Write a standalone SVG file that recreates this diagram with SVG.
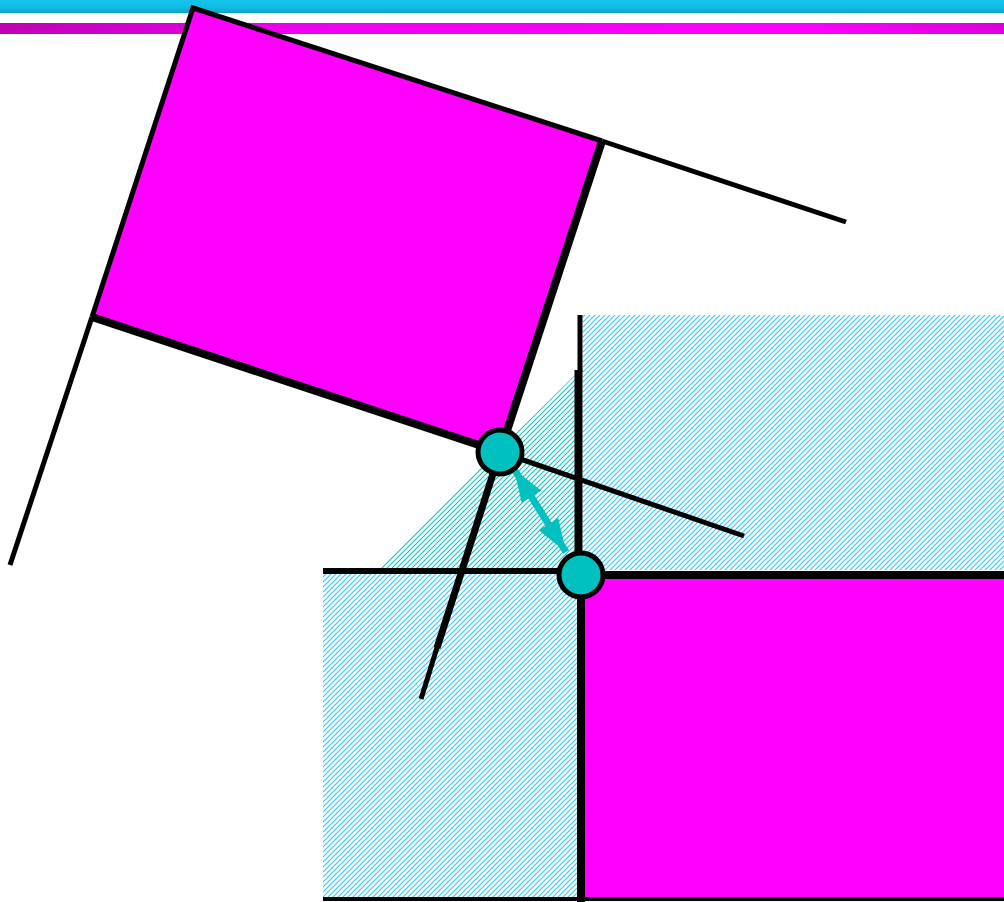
<svg xmlns="http://www.w3.org/2000/svg" width="1004" height="902" viewBox="0 0 1004 902">
<style>
.ln{stroke:#000;stroke-linecap:butt;fill:none}
.thin{stroke-width:5}
.thick{stroke-width:8}
.node{fill:#00c0c0;stroke:#000;stroke-width:5}
</style>
<defs>
<linearGradient id="gc" x1="0" y1="0" x2="0" y2="1">
<stop offset="0" stop-color="#14c4ec"/><stop offset="0.6" stop-color="#10bce4"/><stop offset="1" stop-color="#0ea0c0"/>
</linearGradient>
<linearGradient id="gm" x1="0" y1="0" x2="1" y2="0">
<stop offset="0" stop-color="#c000b4"/><stop offset="0.3" stop-color="#f000f0"/><stop offset="0.8" stop-color="#ff00ff"/><stop offset="1" stop-color="#dc00dc"/>
</linearGradient>
<pattern id="hb" width="5" height="5" patternUnits="userSpaceOnUse">
<rect width="5" height="5" fill="#fff"/>
<path d="M-1,6 L6,-1 M-1,1 L1,-1 M4,6 L6,4" stroke="#30c8f8" stroke-width="1.1"/>
</pattern>
<pattern id="ht" width="5" height="5" patternUnits="userSpaceOnUse">
<rect width="5" height="5" fill="#fff"/>
<path d="M-1,6 L6,-1 M-1,1 L1,-1 M4,6 L6,4" stroke="#10c4c4" stroke-width="1.1"/>
</pattern>
<marker id="ah" viewBox="0 0 10 10" refX="10" refY="5" markerWidth="4.7" markerHeight="3.3" orient="auto-start-reverse" markerUnits="strokeWidth" preserveAspectRatio="none">
<path d="M0,0 L10,5 L0,10 Z" fill="#00c0c0"/>
</marker>
</defs>

<g id="header">
<rect x="0" y="0" width="1004" height="13" fill="url(#gc)"/>
<rect x="0" y="23" width="1004" height="11" fill="url(#gm)"/>
</g>

<g id="regions">
<rect x="583" y="315" width="421" height="255" fill="url(#hb)"/>
<rect x="323" y="573" width="256" height="325" fill="url(#hb)"/>
<polygon points="375,571 577,373 577,570" fill="url(#ht)"/>
</g>

<g id="tilted-rect">
<polygon points="193,8 602,141 500,452 92,317" fill="#ff00ff"/>
<path class="ln thin" d="M92,317 L193,8 L602,141"/>
<path class="ln thick" d="M602,141 L500,452 L92,317"/>
</g>

<g id="fixed-rect">
<rect x="583" y="577" width="421" height="321" fill="#ff00ff"/>
</g>

<g id="connectors">
<line class="ln thin" x1="602" y1="141" x2="846" y2="222"/>
<line class="ln thin" x1="92" y1="317" x2="10" y2="565"/>
<line class="ln thin" x1="500" y1="452" x2="744" y2="536"/>
<line class="ln" stroke-width="7" x1="500" y1="452" x2="437" y2="648"/>
<line class="ln thin" x1="440" y1="638" x2="421" y2="699"/>
<line class="ln thin" x1="580" y1="315" x2="580" y2="372"/>
<line class="ln thick" x1="578.5" y1="370" x2="578.5" y2="575"/>
<line class="ln" stroke-width="6" x1="323" y1="571" x2="581" y2="571"/>
<line class="ln thick" x1="581" y1="575" x2="1004" y2="575"/>
<line class="ln thick" x1="581" y1="575" x2="581" y2="902"/>
<line class="ln" stroke-width="4" x1="323" y1="899" x2="1004" y2="899"/>
<line x1="514" y1="469" x2="566" y2="552" stroke="#00c0c0" stroke-width="7" marker-start="url(#ah)" marker-end="url(#ah)"/>
</g>

<g id="joint-1"><circle class="node" cx="500" cy="452" r="22"/></g>
<g id="joint-2"><circle class="node" cx="581" cy="575" r="22"/></g>
</svg>
